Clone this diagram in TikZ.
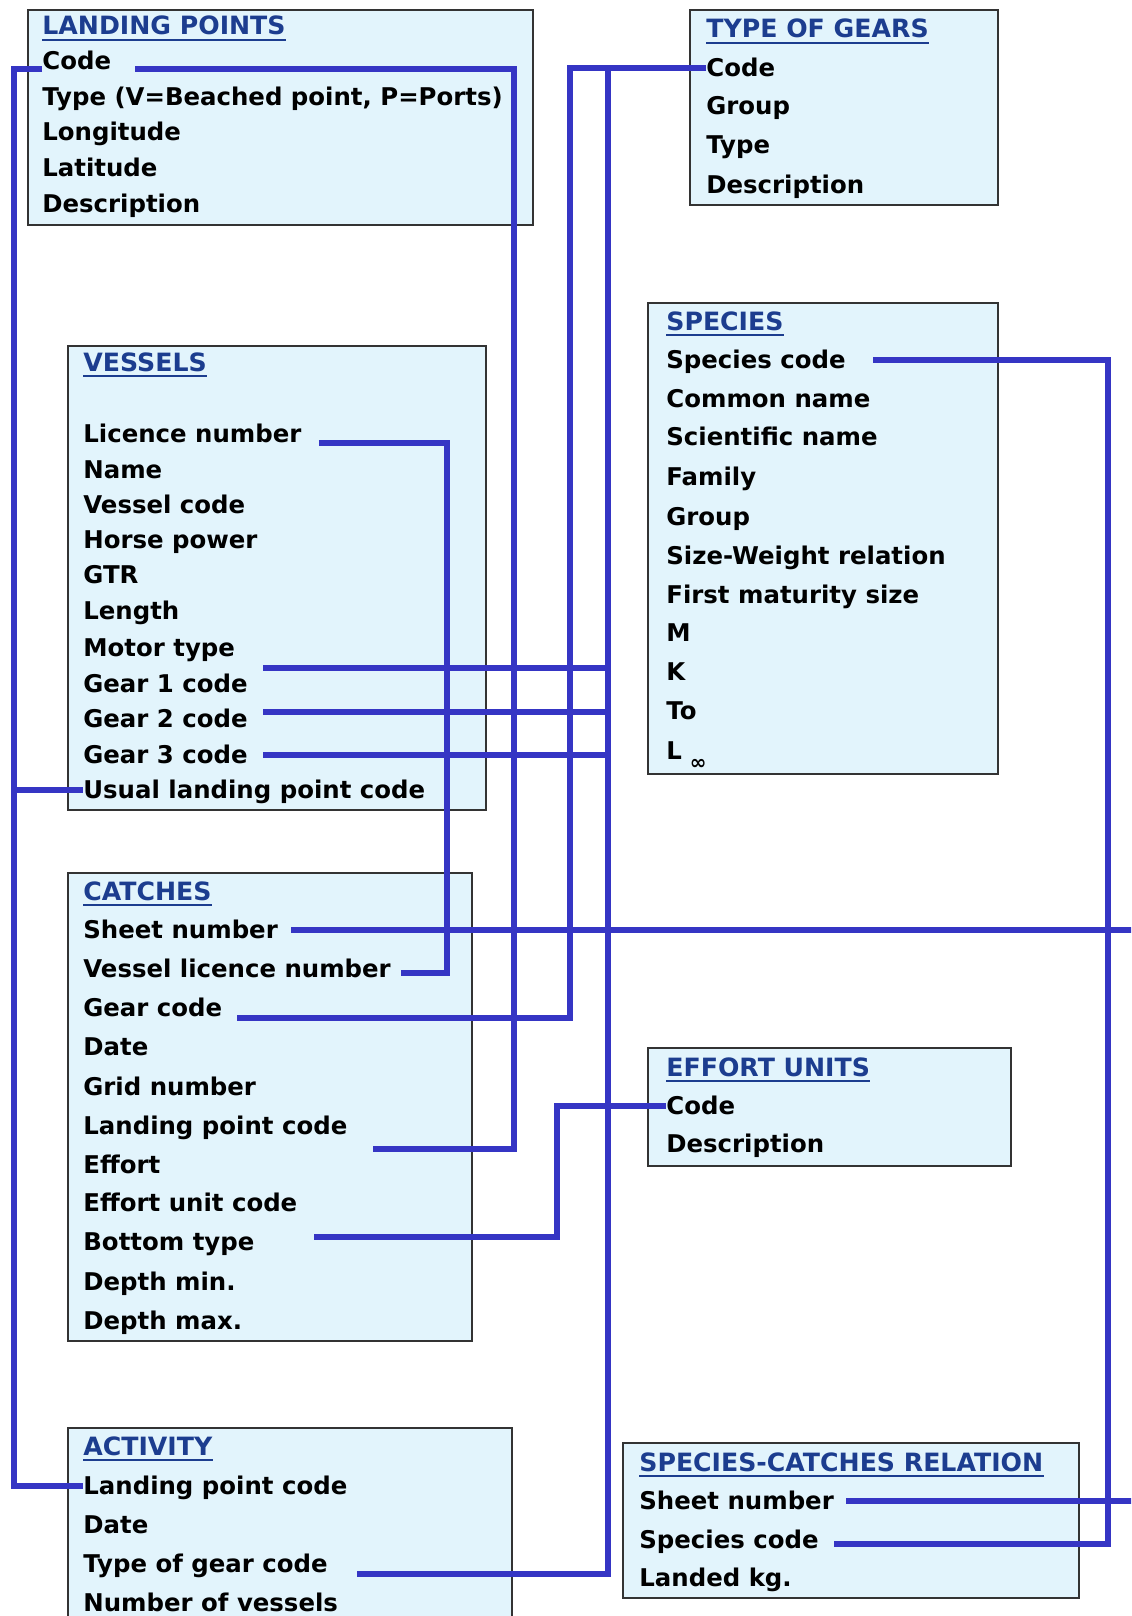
\documentclass[tikz,border=0pt]{standalone}
\usepackage{amsmath}
\usepackage{fontspec}
\setmainfont{DejaVu Sans}
\usepackage{tikz}
\usetikzlibrary{calc}

\definecolor{boxfill}{HTML}{E2F4FC}
\definecolor{boxline}{HTML}{333333}
\definecolor{linkblue}{HTML}{3535C4}
\definecolor{titleblue}{HTML}{1C3D8F}

\tikzset{
    table/.style={fill=boxfill, draw=boxline, line width=0.8pt},
    title/.style={anchor=west, inner sep=0pt, text height=9.6pt, text depth=0.6pt, text=titleblue, font=\bfseries\fontsize{12.6}{14}\selectfont},
    uline/.style={titleblue, line width=1.3pt},
    field/.style={anchor=west, inner sep=0pt, text height=9.4pt, text depth=0.6pt, font=\bfseries\fontsize{12.2}{14}\selectfont},
    link/.style={linkblue, line width=2.9pt}
}

\begin{document}
\begin{tikzpicture}[x=0.5pt, y=-0.5pt]
    \useasboundingbox (0,0) rectangle (1131,1616);
    \fill[white] (0,0) rectangle (1131,1616);
    \clip (0,0) rectangle (1131,1616);

    % tables
    \path[table] (28,10) rectangle (533,225);
    \path[table] (690,10) rectangle (998,205);
    \path[table] (648,303) rectangle (998,774);
    \path[table] (68,346) rectangle (486,810);
    \path[table] (68,873) rectangle (472,1341);
    \path[table] (648,1048) rectangle (1011,1166);
    \path[table] (68,1428) rectangle (512,1640);
    \path[table] (623,1443) rectangle (1079,1598);

    % landing points
    \node[title] (lpT) at (42,26) {LANDING POINTS};
    \node[field] (lpCode) at (42,61) {Code};
    \node[field] (lpType) at (42,97) {Type (V=Beached point, P=Ports)};
    \node[field] (lpLon) at (42,132) {Longitude};
    \node[field] (lpLat) at (42,168) {Latitude};
    \node[field] (lpDesc) at (42,204) {Description};

    % type of gears
    \node[title] (tgT) at (706,29) {TYPE OF GEARS};
    \node[field] (tgCode) at (706,68) {Code};
    \node[field] (tgGroup) at (706,106) {Group};
    \node[field] (tgType) at (706,145) {Type};
    \node[field] (tgDesc) at (706,185) {Description};

    % species
    \node[title] (spT) at (666,321) {SPECIES};
    \node[field] (spCode) at (666,360) {Species code};
    \node[field] (spCommon) at (666,399) {Common name};
    \node[field] (spSci) at (666,437) {Scientific name};
    \node[field] (spFam) at (666,477) {Family};
    \node[field] (spGroup) at (666,517) {Group};
    \node[field] (spSW) at (666,556) {Size-Weight relation};
    \node[field] (spMat) at (666,595) {First maturity size};
    \node[field] (spM) at (666,633) {M};
    \node[field] (spK) at (666,672) {K};
    \node[field] (spTo) at (666,711) {To};
    \node[field] (spLinf) at (666,751) {L\hspace{4pt}\raisebox{-5pt}{\fontsize{10}{10}\selectfont ∞}};

    % vessels
    \node[title] (vT) at (83,362) {VESSELS};
    \node[field] (vLic) at (83,434) {Licence number};
    \node[field] (vName) at (83,470) {Name};
    \node[field] (vCode) at (83,505) {Vessel code};
    \node[field] (vHP) at (83,540) {Horse power};
    \node[field] (vGTR) at (83,575) {GTR};
    \node[field] (vLen) at (83,611) {Length};
    \node[field] (vMotor) at (83,648) {Motor type};
    \node[field] (vG1) at (83,684) {Gear 1 code};
    \node[field] (vG2) at (83,719) {Gear 2 code};
    \node[field] (vG3) at (83,755) {Gear 3 code};
    \node[field] (vUsual) at (83,790) {Usual landing point code};

    % catches
    \node[title] (cT) at (83,891) {CATCHES};
    \node[field] (cSheet) at (83,930) {Sheet number};
    \node[field] (cVLic) at (83,969) {Vessel licence number};
    \node[field] (cGear) at (83,1008) {Gear code};
    \node[field] (cDate) at (83,1047) {Date};
    \node[field] (cGrid) at (83,1087) {Grid number};
    \node[field] (cLand) at (83,1126) {Landing point code};
    \node[field] (cEffort) at (83,1165) {Effort};
    \node[field] (cUnit) at (83,1203) {Effort unit code};
    \node[field] (cBot) at (83,1242) {Bottom type};
    \node[field] (cDmin) at (83,1282) {Depth min.};
    \node[field] (cDmax) at (83,1321) {Depth max.};

    % effort units
    \node[title] (euT) at (666,1067) {EFFORT UNITS};
    \node[field] (euCode) at (666,1106) {Code};
    \node[field] (euDesc) at (666,1144) {Description};

    % activity
    \node[title] (aT) at (83,1446) {ACTIVITY};
    \node[field] (aLand) at (83,1486) {Landing point code};
    \node[field] (aDate) at (83,1525) {Date};
    \node[field] (aGear) at (83,1564) {Type of gear code};
    \node[field] (aNum) at (83,1603) {Number of vessels};

    % species-catches relation
    \node[title] (scT) at (639,1462) {SPECIES-CATCHES RELATION};
    \node[field] (scSheet) at (639,1501) {Sheet number};
    \node[field] (scSp) at (639,1540) {Species code};
    \node[field] (scKg) at (639,1578) {Landed kg.};

    % underlines
    \foreach \t in {lpT,tgT,spT,vT,cT,euT,aT,scT}
        \draw[uline] ($(\t.base west)+(0,5)$) -- ($(\t.base east)+(0,5)$);

    % line ends
    \coordinate (lpCodeR) at ($(lpCode.east)+(24,8)$);
    \coordinate (vLicR) at ($(vLic.east)+(17,9)$);
    \coordinate (vG1R) at ($(vG1.east)+(15,-16)$);
    \coordinate (vG2R) at ($(vG2.east)+(15,-7)$);
    \coordinate (vG3R) at ($(vG3.east)+(15,0)$);
    \coordinate (cSheetR) at ($(cSheet.east)+(13,0)$);
    \coordinate (cVLicR) at ($(cVLic.east)+(10,4)$);
    \coordinate (cGearR) at ($(cGear.east)+(14,10)$);
    \coordinate (cLandR) at ($(cLand.east)+(25,23)$);
    \coordinate (cBotR) at ($(cBot.east)+(59,-5)$);
    \coordinate (spCodeR) at ($(spCode.east)+(27,0)$);
    \coordinate (aGearR) at ($(aGear.east)+(29,10)$);
    \coordinate (scSheetR) at ($(scSheet.east)+(12,0)$);
    \coordinate (scSpR) at ($(scSp.east)+(15,4)$);

    % buses
    \coordinate (busL) at (14,0);
    \coordinate (busLP) at (514,0);
    \coordinate (busLic) at (447,0);
    \coordinate (busEff) at (557,0);
    \coordinate (busGear) at (570,0);
    \coordinate (busType) at (608,0);
    \coordinate (busSp) at (1108,0);
    \coordinate (busSheet) at (1142,0);

    % connectors
    \draw[link] ($(lpCode.west)+(0,8)$) -| (busL |- aLand.west) -- (aLand.west);
    \draw[link] (busL |- vUsual.west) -- (vUsual.west);
    \draw[link] (lpCodeR) -| (busLP |- cLandR) -- (cLandR);
    \draw[link] (vLicR) -| (busLic |- cVLicR) -- (cVLicR);
    \draw[link] (tgCode.west) -| (busGear |- cGearR) -- (cGearR);
    \draw[link] (busType |- tgCode.west) -- (busType |- aGearR) -- (aGearR);
    \draw[link] (vG1R) -- (busType |- vG1R);
    \draw[link] (vG2R) -- (busType |- vG2R);
    \draw[link] (vG3R) -- (busType |- vG3R);
    \draw[link] (spCodeR) -| (busSp |- scSpR) -- (scSpR);
    \draw[link] (cSheetR) -| (busSheet |- scSheetR) -- (scSheetR);
    \draw[link] (euCode.west) -| (busEff |- cBotR) -- (cBotR);
\end{tikzpicture}
\end{document}
